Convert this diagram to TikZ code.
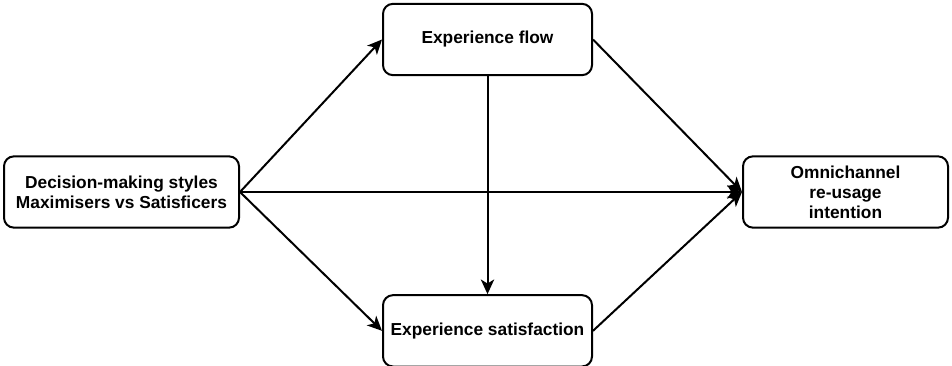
\documentclass[tikz,border=0pt]{standalone}
\usepackage{fontspec}
\setmainfont{Liberation Sans}
\usetikzlibrary{arrows.meta,positioning}
\tikzset{
    factor/.style={rectangle,draw,rounded corners=7.5pt,line width=1.5pt,minimum height=53.5pt,inner sep=2pt,align=center,font=\bfseries\fontsize{13}{15}\selectfont},
    pre/.style={-{Stealth[length=11pt,width=10pt,inset=3pt]},line width=1.5pt}
}
\begin{document}
\begin{tikzpicture}[x=0.75pt,y=-0.75pt]

    \useasboundingbox (0,0) rectangle (952,366);

    \node[factor, minimum width=176.25pt] (style) at (121.5,192) {Decision-making styles\\Maximisers vs Satisficers};
    \node[factor, minimum width=156.75pt] (flow)  at (487.5,39.5) {Experience flow};
    \node[factor, minimum width=156.75pt] (sat)   [below=163.5pt of flow] {Experience satisfaction};
    \node[factor, minimum width=153.75pt] (reuse) at (845.5,192) {Omnichannel\\re-usage\\intention};

    \draw[pre] (style.east) -- (flow.west);
    \draw[pre] (style.east) -- (sat.west);
    \draw[pre] (style.east) -- (reuse.west);
    \draw[pre] (flow.south) -- (sat.north);
    \draw[pre] (flow.east)  -- (reuse.west);
    \draw[pre] (sat.east)   -- (reuse.west);

\end{tikzpicture}
\end{document}
